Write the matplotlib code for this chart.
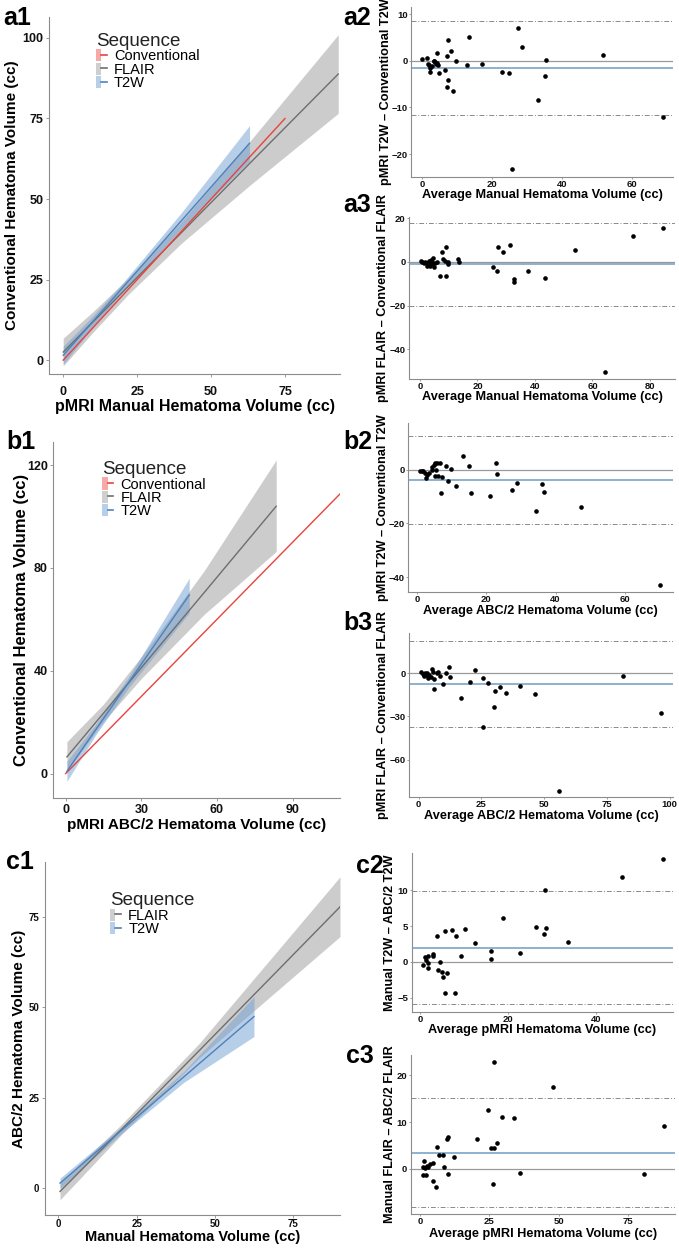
import matplotlib.pyplot as plt
from matplotlib.patches import Patch
from matplotlib.lines import Line2D
from matplotlib.legend_handler import HandlerTuple

plt.rcParams['font.family'] = ['Liberation Sans', 'DejaVu Sans']

# ---------------- data ----------------
# regression fits: x, fitted line, lower CI, upper CI
a1_conv_x = [0, 75]
a1_conv_fit = [0, 75]
a1_flair_x = [0, 10, 22, 40, 63, 93]
a1_flair_fit = [2.5, 11.8, 22.9, 39.6, 61.0, 88.8]
a1_flair_lo = [-1.8, 8.6, 20.4, 36.3, 54.2, 76.6]
a1_flair_hi = [6.8, 15.0, 25.4, 42.9, 67.8, 101.0]
a1_t2w_x = [0, 10, 20, 40, 63]
a1_t2w_fit = [1.5, 12.0, 22.4, 43.3, 67.3]
a1_t2w_lo = [-1.3, 10.3, 21.0, 40.8, 61.8]
a1_t2w_hi = [4.3, 13.7, 23.8, 45.8, 72.8]

b1_conv_x = [0, 112]
b1_conv_fit = [0, 112]
b1_flair_x = [0.5, 15, 30, 55, 83.5]
b1_flair_fit = [6.5, 23.5, 41.2, 70.5, 104.0]
b1_flair_lo = [1.0, 20.2, 37.0, 62.0, 86.4]
b1_flair_hi = [12.4, 27.0, 45.4, 79.0, 122.0]
b1_t2w_x = [0.5, 12, 25, 49]
b1_t2w_fit = [0.9, 17.2, 35.5, 69.5]
b1_t2w_lo = [-3.0, 15.2, 33.5, 62.5]
b1_t2w_hi = [4.8, 19.2, 37.6, 76.0]

c1_flair_x = [0.5, 20, 45, 90]
c1_flair_fit = [-0.9, 16.1, 38.0, 77.7]
c1_flair_lo = [-3.2, 14.7, 36.0, 69.5]
c1_flair_hi = [1.4, 17.5, 40.0, 86.0]
c1_t2w_x = [0.5, 20, 40, 62.5]
c1_t2w_fit = [1.4, 15.9, 30.7, 47.4]
c1_t2w_lo = [0.0, 15.0, 29.2, 41.9]
c1_t2w_hi = [2.8, 16.8, 32.2, 52.9]

# Bland-Altman points: average, difference; mean bias and limits of agreement
a2_avg = [0.0, 1.4, 1.7, 2.0, 2.2, 2.4, 2.8, 3.4, 3.8, 4.1, 4.4, 4.5, 4.8, 4.2, 3.6,
          6.7, 7.2, 7.2, 7.6, 7.6, 8.4, 9.0, 9.7, 13.0, 13.6, 17.2, 23.0, 25.0, 25.6,
          27.5, 28.7, 33.3, 35.1, 35.4, 51.7, 68.9]
a2_diff = [0.3, 0.6, -0.6, -0.9, -1.6, -2.4, -1.2, 0.0, -0.2, -0.6, 1.7, -0.9, -2.6, -0.4, -0.1,
           -2.0, 1.1, -5.6, 4.4, -4.2, 2.0, -6.4, -0.1, -0.9, 5.1, -0.6, -2.4, -2.7, -23.2,
           7.1, 2.9, -8.4, -3.2, 0.1, 1.2, -12.0]
a2_mean, a2_upper, a2_lower = -1.6, 8.6, -11.6

a3_avg = [0.35, 0.8, 1.3, 1.7, 2.3, 2.6, 2.9, 3.2, 3.5, 3.8, 4.1, 4.3, 4.6, 5.0, 5.2, 5.8,
          7.1, 7.8, 8.0, 8.7, 9.2, 9.1, 9.7, 9.9, 13.3, 13.7, 25.4, 26.9, 27.2, 28.8,
          31.2, 32.8, 32.8, 37.7, 43.5, 53.9, 64.3, 74.1, 84.6]
a3_diff = [0.15, -0.15, -0.5, -0.15, -0.6, -1.7, -0.5, 0.15, -2.0, 0.9, -0.15, -1.2, 1.7, -2.4,
           -0.5, -0.15, -6.3, 4.7, 1.4, 0.6, 7.0, -6.6, -0.9, -0.15, 1.2, 0.0, -2.3, -4.0, 6.6,
           4.4, 7.8, -7.8, -9.3, -4.3, -7.5, 5.3, -50.5, 11.9, 15.3]
a3_mean, a3_upper, a3_lower = -1.1, 17.9, -20.1

b2_avg = [0.8, 1.3, 1.7, 2.2, 2.5, 2.9, 3.5, 4.2, 4.4, 4.8, 5.1, 5.3, 5.6, 5.1, 6.1, 6.6,
          6.8, 7.1, 8.3, 9.0, 9.8, 11.2, 13.3, 14.9, 15.6, 20.9, 22.8, 23.0, 27.4, 28.8,
          34.3, 36.1, 36.6, 47.4, 70.3]
b2_diff = [-0.25, -0.6, -0.25, -1.0, -3.2, -1.9, -1.25, 0.0, 1.0, 1.9, 2.5, 0.0, 2.5, -2.25,
           -2.25, 2.5, -8.75, -2.75, 1.5, -4.25, 0.5, -6.0, 5.25, 1.5, -8.5, -9.75, 2.75,
           -1.5, -7.5, -5.0, -15.5, -5.25, -8.1, -13.75, -43.0]
b2_mean, b2_upper, b2_lower = -3.8, 12.5, -20.1

b3_avg = [0.9, 1.6, 2.1, 2.5, 2.9, 3.4, 3.8, 4.2, 4.8, 5.3, 5.7, 6.2, 6.2, 7.2, 7.8, 8.5,
          9.9, 10.9, 12.3, 12.5, 16.7, 20.4, 22.3, 25.7, 25.7, 27.5, 30.0, 30.6, 32.4,
          35.0, 40.3, 46.4, 56.1, 81.3, 96.4]
b3_diff = [0.7, -0.5, -1.9, 0.0, -1.2, 0.5, -3.5, -1.4, -2.3, 3.3, 1.2, -4.2, -10.7, 0.0,
           0.9, -1.9, -7.4, 0.0, 4.2, -2.8, -17.4, -6.0, 2.1, -3.5, -37.2, -6.5, -23.3,
           -12.1, -9.3, -13.5, -8.8, -14.7, -81.6, -1.9, -27.7]
b3_mean, b3_upper, b3_lower = -7.6, 22.1, -37.4

c2_avg = [0.6, 1.1, 1.4, 1.7, 1.7, 1.9, 2.9, 3.0, 3.9, 4.0, 4.5, 4.9, 5.3, 5.7, 5.7, 6.2,
          7.3, 7.9, 8.2, 9.4, 10.3, 12.5, 16.1, 16.1, 18.9, 22.6, 26.4, 28.1, 28.5, 28.4,
          33.6, 45.8, 55.1]
c2_diff = [-0.4, 0.65, 0.2, 0.75, -0.9, -0.2, 1.1, 0.85, 3.55, -1.1, 0.0, -1.35, -2.05, 4.25,
           -4.4, -1.5, 4.4, -4.3, 3.55, 0.85, 4.6, 2.7, 1.45, 0.35, 6.15, 1.3, 4.85, 3.9,
           4.75, 10.0, 2.8, 11.9, 14.4]
c2_mean, c2_upper, c2_lower = 2.0, 9.95, -5.95

c3_avg = [1.0, 1.2, 1.4, 1.8, 2.2, 2.4, 3.0, 3.4, 4.6, 4.6, 5.7, 6.1, 6.9, 8.4, 8.7, 9.6,
          10.2, 10.2, 12.4, 20.7, 24.6, 25.7, 26.3, 26.7, 26.7, 27.7, 29.5, 34.0, 35.9,
          48.0, 80.7, 88.2]
c3_diff = [-1.3, 0.5, 1.6, 0.15, -1.3, 0.65, 0.5, 1.05, 1.2, -2.5, -3.75, 4.6, 2.9, 3.0,
           0.35, 6.3, 6.75, -1.1, 2.6, 6.3, 12.5, 4.4, -3.3, 4.4, 22.9, 5.6, 11.1, 10.85,
           -0.8, 17.4, -1.0, 9.15]
c3_mean, c3_upper, c3_lower = 3.5, 15.2, -8.2

# ---------------- styling ----------------
line_col = {'Conventional': '#e8433d', 'FLAIR': '#6e6e6e', 'T2W': '#4f81b8'}
band_col = {'Conventional': '#f08080', 'FLAIR': '#9a9a9a', 'T2W': '#6f9fd2'}
key_col = {'Conventional': '#f6a9a6', 'FLAIR': '#cfcfcf', 'T2W': '#b7cfe8'}
axis_col = '#8c8c8c'

W, H = 679, 1250
fig = plt.figure(figsize=(W / 100, H / 100), dpi=100)


def box(l, t, r, b):
    return [l / W, 1 - b / H, (r - l) / W, (b - t) / H]


def style(ax, tsize, xpad, ypad, tlen):
    for s in ['top', 'right']:
        ax.spines[s].set_visible(False)
    for s in ['left', 'bottom']:
        ax.spines[s].set_color(axis_col)
        ax.spines[s].set_linewidth(0.8)
    ax.tick_params(length=tlen, width=0.6, color=axis_col)
    ax.tick_params(axis='x', pad=xpad)
    ax.tick_params(axis='y', pad=ypad)
    for lab in ax.get_xticklabels() + ax.get_yticklabels():
        lab.set_fontweight('bold')
        lab.set_fontsize(tsize)
        lab.set_color('#111111')


def place_labels(ax, ylab_x, xlab_y):
    pos = ax.get_position()
    ax.yaxis.set_label_coords((ylab_x / W - pos.x0) / pos.width, 0.5)
    ax.xaxis.set_label_coords(0.5, ((1 - xlab_y / H) - pos.y0) / pos.height)
    ax.xaxis.label.set_va('center')


def fit_panel(ax, series, xlim, ylim, xt, yt, xlab, ylab, leg_xy,
              tsize, xpad, xsize, ysize, ylab_x, xlab_y):
    handles, names = [], []
    for name, x, fit, lo, hi in series:
        ax.fill_between(x, lo, hi, color=band_col[name], alpha=0.5, lw=0)
        ax.plot(x, fit, color=line_col[name], lw=1.0)
    for name, x, fit, lo, hi in sorted(series, key=lambda s: s[0]):
        handles.append((Patch(fc=key_col[name], ec='none'),
                        Line2D([], [], color=line_col[name], lw=1.2)))
        names.append(name)
    ax.set_xlim(*xlim)
    ax.set_ylim(*ylim)
    ax.set_xticks(xt)
    ax.set_yticks(yt)
    style(ax, tsize, xpad, 1.5, 2.5)
    ax.set_xlabel(xlab, fontsize=xsize, fontweight='bold')
    ax.set_ylabel(ylab, fontsize=ysize, fontweight='bold', va='center')
    place_labels(ax, ylab_x, xlab_y)
    leg = ax.legend(handles, names, handler_map={tuple: HandlerTuple(ndivide=None)},
                    title='Sequence', loc='upper left', bbox_to_anchor=leg_xy,
                    frameon=False, fontsize=10.5, title_fontsize=13.5,
                    handlelength=0.75, handleheight=0.9, handletextpad=0.5,
                    labelspacing=-0.05, borderpad=0, borderaxespad=0,
                    alignment='left')
    leg.get_title().set_color('#222222')


def ba_panel(ax, avg, diff, mean, upper, lower, xlim, ylim, xt, yt, xlab, ylab,
             ylab_x, xlab_y):
    ax.axhline(0, color='#9a9a9a', lw=0.9, zorder=1)
    ax.axhline(mean, color='#6f9cc4', lw=1.1, zorder=1)
    ax.axhline(upper, color='#8a8a8a', lw=0.7, ls=(0, (5, 2, 1, 2)), zorder=1)
    ax.axhline(lower, color='#8a8a8a', lw=0.7, ls=(0, (5, 2, 1, 2)), zorder=1)
    ax.scatter(avg, diff, s=11, c='black', lw=0, zorder=3)
    ax.set_xlim(*xlim)
    ax.set_ylim(*ylim)
    ax.set_xticks(xt)
    ax.set_yticks(yt)
    style(ax, 6.8, 0.5, 1.0, 1.5)
    ax.set_xlabel(xlab, fontsize=9.2, fontweight='bold')
    ax.set_ylabel(ylab, fontsize=9.2, fontweight='bold', va='center')
    place_labels(ax, ylab_x, xlab_y)


# ---------------- left column ----------------
ax_a1 = fig.add_axes(box(49.3, 17, 340, 374))
fit_panel(ax_a1,
          [('FLAIR', a1_flair_x, a1_flair_fit, a1_flair_lo, a1_flair_hi),
           ('Conventional', a1_conv_x, a1_conv_fit, a1_conv_fit, a1_conv_fit),
           ('T2W', a1_t2w_x, a1_t2w_fit, a1_t2w_lo, a1_t2w_hi)],
          (-4.7, 93.6), (-4.3, 106.5), [0, 25, 50, 75], [0, 25, 50, 75, 100],
          'pMRI Manual Hematoma Volume (cc)', 'Conventional Hematoma Volume (cc)',
          (0.16, 0.955), 9, 6.0, 11.5, 11, 12, 406)

ax_b1 = fig.add_axes(box(53.3, 442, 340, 798))
fit_panel(ax_b1,
          [('FLAIR', b1_flair_x, b1_flair_fit, b1_flair_lo, b1_flair_hi),
           ('Conventional', b1_conv_x, b1_conv_fit, b1_conv_fit, b1_conv_fit),
           ('T2W', b1_t2w_x, b1_t2w_fit, b1_t2w_lo, b1_t2w_hi)],
          (-4.9, 108.8), (-9.5, 129), [0, 30, 60, 90], [0, 40, 80, 120],
          'pMRI ABC/2 Hematoma Volume (cc)', 'Conventional Hematoma Volume (cc)',
          (0.17, 0.946), 9, 1.5, 11, 12, 22, 825)

ax_c1 = fig.add_axes(box(45, 862, 340, 1215))
fit_panel(ax_c1,
          [('FLAIR', c1_flair_x, c1_flair_fit, c1_flair_lo, c1_flair_hi),
           ('T2W', c1_t2w_x, c1_t2w_fit, c1_t2w_lo, c1_t2w_hi)],
          (-4.3, 90), (-7.4, 90.1), [0, 25, 50, 75], [0, 25, 50, 75],
          'Manual Hematoma Volume (cc)', 'ABC/2 Hematoma Volume (cc)',
          (0.22, 0.914), 7, 0.5, 10.5, 11, 19, 1237)

# ---------------- right column ----------------
ax_a2 = fig.add_axes(box(411, 7, 673, 177))
ba_panel(ax_a2, a2_avg, a2_diff, a2_mean, a2_upper, a2_lower,
         (-3.1, 71.7), (-24.9, 11.5), [0, 20, 40, 60], [-20, -10, 0, 10],
         'Average Manual Hematoma Volume (cc)', 'pMRI T2W \u2013 Conventional T2W', 386, 195)

ax_a3 = fig.add_axes(box(409, 217, 675, 379))
ba_panel(ax_a3, a3_avg, a3_diff, a3_mean, a3_upper, a3_lower,
         (-3.8, 88.7), (-53.6, 20.5), [0, 20, 40, 60, 80], [-40, -20, 0, 20],
         'Average Manual Hematoma Volume (cc)', 'pMRI FLAIR \u2013 Conventional FLAIR', 383, 397)

ax_b2 = fig.add_axes(box(408.3, 423, 673, 592))
ba_panel(ax_b2, b2_avg, b2_diff, b2_mean, b2_upper, b2_lower,
         (-2.6, 74), (-45.6, 17.5), [0, 20, 40, 60], [-40, -20, 0],
         'Average ABC/2 Hematoma Volume (cc)', 'pMRI T2W \u2013 Conventional T2W', 383, 611)

ax_b3 = fig.add_axes(box(409.3, 633, 673, 797))
ba_panel(ax_b3, b3_avg, b3_diff, b3_mean, b3_upper, b3_lower,
         (-3.7, 101.3), (-86, 28), [0, 25, 50, 75, 100], [-60, -30, 0],
         'Average ABC/2 Hematoma Volume (cc)', 'pMRI FLAIR \u2013 Conventional FLAIR', 383, 816)

ax_c2 = fig.add_axes(box(411.7, 853, 673, 1012))
ba_panel(ax_c2, c2_avg, c2_diff, c2_mean, c2_upper, c2_lower,
         (-1.9, 57.4), (-7.0, 15.2), [0, 20, 40], [-5, 0, 5, 10],
         'Average pMRI Hematoma Volume (cc)', 'Manual T2W \u2013 ABC/2 T2W', 390, 1030)

ax_c3 = fig.add_axes(box(410.7, 1055, 675, 1214))
ba_panel(ax_c3, c3_avg, c3_diff, c3_mean, c3_upper, c3_lower,
         (-3.4, 92), (-9.6, 24.3), [0, 25, 50, 75], [0, 10, 20],
         'Average pMRI Hematoma Volume (cc)', 'Manual FLAIR \u2013 ABC/2 FLAIR', 390, 1234)

# ---------------- panel letters ----------------
for lab, x, y in [('a1', 3, 6), ('a2', 343, 6), ('a3', 343, 193),
                  ('b1', 6, 430), ('b2', 343, 430), ('b3', 343, 611),
                  ('c1', 6, 850), ('c2', 356, 854), ('c3', 346, 1044)]:
    fig.text(x / W, 1 - y / H, lab, fontsize=18, fontweight='bold',
             ha='left', va='top')

fig.savefig('out.png', dpi=100)
